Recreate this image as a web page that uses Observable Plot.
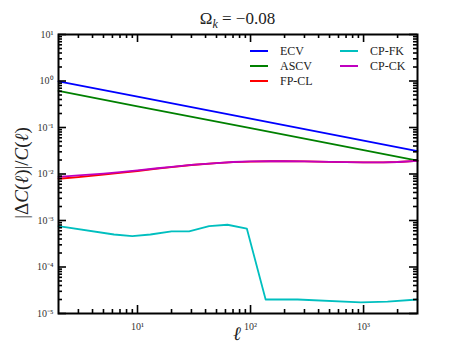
<!DOCTYPE html>
<html><head><meta charset="utf-8">
<script src="https://cdn.jsdelivr.net/npm/d3@7"></script>
<script src="https://cdn.jsdelivr.net/npm/@observablehq/plot@0.6"></script>
<style>
body{margin:0;background:#fff}
#wrap{position:relative;width:463px;height:348px;font-family:'Liberation Serif',serif;color:#222}
.ov{position:absolute;white-space:nowrap}
#title{left:58px;width:359px;top:10px;text-align:center;font-size:17px;line-height:18px}
#ylab{left:22px;top:173px;transform:translate(-50%,-50%) rotate(-90deg);font-size:19px}
#xlab{left:237px;top:334px;transform:translate(-50%,-50%);font-size:19px}
.leg{position:absolute;font-size:12px;line-height:14px;display:flex;align-items:center}
.sw{width:18px;height:2px;margin-right:12px}
</style></head><body><div id="wrap"></div>
<script>
// ---- data ----
const ellLine = [2, 10, 100, 1000, 3000];
const ecv  = [0.98, 0.46, 0.155, 0.052, 0.031];
const ascv = [0.61, 0.285, 0.0965, 0.0325, 0.0193];

const ellCL = [2, 3, 5, 7, 10, 15, 20, 30, 50, 70, 100, 150, 200, 300, 500, 700, 1000, 1500, 2000, 3000];
const fpcl = [0.0079, 0.0086, 0.0097, 0.0106, 0.0116, 0.0130, 0.0141, 0.0156, 0.0171, 0.0180, 0.0185, 0.0188, 0.0188, 0.0186, 0.0183, 0.0180, 0.0177, 0.0177, 0.0181, 0.0192];
const cpck = [0.0087, 0.0093, 0.0102, 0.0110, 0.0120, 0.0133, 0.0143, 0.0157, 0.0172, 0.0181, 0.0186, 0.0188, 0.0188, 0.0186, 0.0183, 0.0180, 0.0177, 0.0177, 0.0181, 0.0192];

const ellFK = [2, 6.2, 9, 13, 20, 28.6, 43, 62.5, 92.7, 136, 261, 946, 1630, 3000];
const cpfk = [7.6e-4, 5.0e-4, 4.6e-4, 5.0e-4, 5.85e-4, 5.85e-4, 7.6e-4, 8.1e-4, 6.7e-4, 2.0e-5, 2.0e-5, 1.74e-5, 1.8e-5, 2.0e-5];

const seriesNames = ["ECV", "ASCV", "FP-CL", "CP-FK", "CP-CK"];
const seriesColors = ["#0000ff", "#008000", "#ff0000", "#00bfbf", "#bf00bf"];

const xMajor = [10, 100, 1000];
const yMajor = [1e-5, 1e-4, 1e-3, 1e-2, 1e-1, 1, 10];
const xDomain = [2, 3000];
const yDomain = [1e-5, 10];

// ---- build ----
const W = 463, H = 348, mL = 58, mR = 46, mT = 34, mB = 35;
const innerW = W - mL - mR, innerH = H - mT - mB;
const MAJ = 8, MIN = 4;

const rows = [];
const add = (name, xs, ys) => xs.forEach((x, i) => rows.push({series: name, ell: x, v: ys[i]}));
add("ECV", ellLine, ecv);
add("ASCV", ellLine, ascv);
add("FP-CL", ellCL, fpcl);
add("CP-FK", ellFK, cpfk);
add("CP-CK", ellCL, cpck);

const minorOf = (lo, hi) => {
  const out = [];
  for (let k = -6; k <= 4; k++) for (let m = 2; m <= 9; m++) {
    const v = m * Math.pow(10, k);
    if (v > lo * 1.001 && v < hi * 0.999) out.push(v);
  }
  return out;
};
const xMinor = minorOf(...xDomain);
const yMinor = minorOf(...yDomain);

const sup = {"-":"⁻","0":"⁰","1":"¹","2":"²","3":"³","4":"⁴","5":"⁵","6":"⁶","7":"⁷","8":"⁸","9":"⁹"};
const fmt = d => "10" + String(Math.round(Math.log10(d))).split("").map(c => sup[c]).join("");

const colorOf = Object.fromEntries(seriesNames.map((n, i) => [n, seriesColors[i]]));

// inward ticks: tick marks inset from the opposite side of the frame
const ts = {stroke: "#000", strokeWidth: 1.6};
const xTicks = (vals, len) => [
  Plot.tickX(vals, {x: d => d, insetTop: innerH - len, ...ts}),
  Plot.tickX(vals, {x: d => d, insetBottom: innerH - len, ...ts})
];
const yTicks = (vals, len) => [
  Plot.tickY(vals, {y: d => d, insetRight: innerW - len, ...ts}),
  Plot.tickY(vals, {y: d => d, insetLeft: innerW - len, ...ts})
];

const plot = Plot.plot({
  width: W, height: H,
  marginLeft: mL, marginRight: mR, marginTop: mT, marginBottom: mB,
  x: {type: "log", domain: xDomain},
  y: {type: "log", domain: yDomain},
  marks: [
    ...seriesNames.map(n => Plot.line(rows.filter(r => r.series === n), {x: "ell", y: "v", stroke: colorOf[n], strokeWidth: 1.8})),
    Plot.axisX({anchor: "bottom", ticks: xMajor, tickSize: 0, tickPadding: 9, tickFormat: fmt, label: null, fontSize: 10, fill: "#333"}),
    Plot.axisY({anchor: "left", ticks: yMajor, tickSize: 0, tickPadding: 5, tickFormat: fmt, label: null, fontSize: 10, fill: "#333"}),
    ...xTicks(xMajor, MAJ), ...xTicks(xMinor, MIN),
    ...yTicks(yMajor, MAJ), ...yTicks(yMinor, MIN),
    Plot.frame({stroke: "#000", strokeWidth: 2})
  ]
});
plot.style.fontFamily = "'Liberation Serif', serif";

const wrap = document.getElementById("wrap");
wrap.appendChild(plot);
wrap.insertAdjacentHTML("beforeend",
  `<div class="ov" id="title">Ω<sub style="font-size:12px"><i>k</i></sub> = −0.08</div>
   <div class="ov" id="ylab">|Δ<i>C</i>(<i>ℓ</i>)|/<i>C</i>(<i>ℓ</i>)</div>
   <div class="ov" id="xlab"><i>ℓ</i></div>`);

// legend: two columns
const legPos = [[250, 51], [250, 66], [250, 81], [340, 51], [340, 66]];
seriesNames.forEach((n, i) => {
  const d = document.createElement("div");
  d.className = "leg";
  d.style.left = legPos[i][0] + "px";
  d.style.top = (legPos[i][1] - 7) + "px";
  d.innerHTML = `<span class="sw" style="background:${seriesColors[i]}"></span><span>${n}</span>`;
  wrap.appendChild(d);
});
</script></body></html>
